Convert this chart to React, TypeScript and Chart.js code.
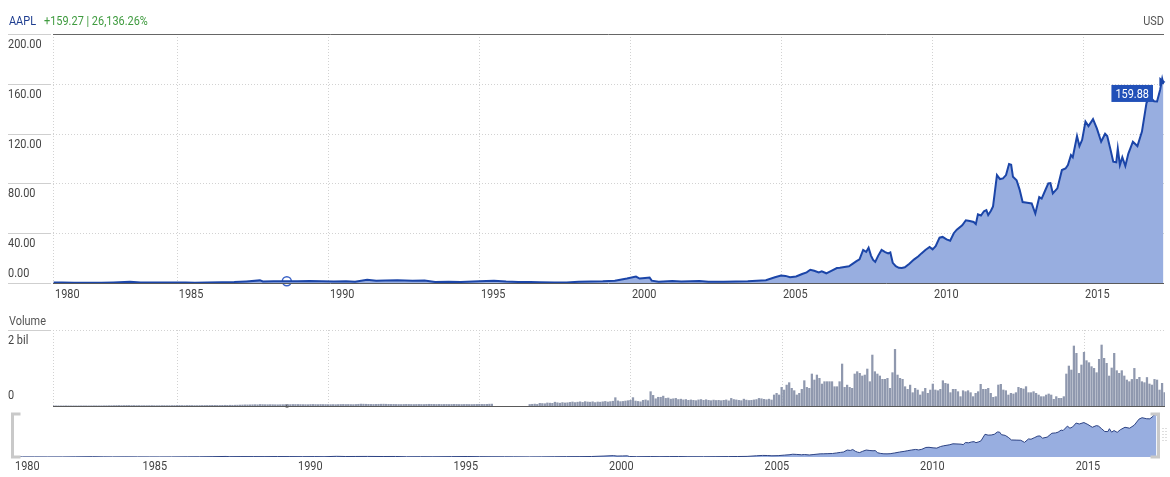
import React, { useEffect, useRef } from 'react';
import { Chart, registerables } from 'chart.js';
import type { Plugin } from 'chart.js';

Chart.register(...registerables);

const FONT = 'Roboto, sans-serif';
const SQUEEZE = 0.84; // the original uses a condensed face

// time axis in decimal years (listing Dec 1980 -> Sep 2017)
const xMin = 1980.9;
const xMax = 2017.68;
const yearTicks = [1985, 1990, 1995, 2000, 2005, 2010, 2015];
const firstYearLabel = '1980';

const priceTicks = [0, 40, 80, 120, 160, 200];
const volumeTicks = [0, 2000]; // millions
const volumeTickLabels = ['0', '2 bil'];
const navigatorMax = 168;

const ticker = 'AAPL';
const changeText = '+159.27 | 26,136.26%';
const currency = 'USD';
const lastPriceText = '159.88';
const hoverDate = 1988.64;

// price
const priceDates = [
  1980.92, 1981.2, 1981.6, 1982.0, 1982.5, 1982.9, 1983.45, 1983.8, 1984.1, 1984.5, 1984.9, 1985.3, 1985.6,
  1986.0, 1986.5, 1986.9, 1987.3, 1987.75, 1987.85, 1988.2, 1988.64, 1989.0, 1989.4, 1989.8, 1990.2, 1990.6, 1990.9,
  1991.3, 1991.6, 1991.9, 1992.3, 1992.8, 1993.2, 1993.55, 1994.0, 1994.4, 1995.0, 1995.5, 1995.9,
  1996.3, 1996.7, 1997.0, 1997.5, 1997.9, 1998.3, 1998.7, 1999.1, 1999.5, 1999.9, 2000.2, 2000.32, 2000.5, 2000.65, 2000.72, 2000.95,
  2001.4, 2001.7, 2002.0, 2002.3, 2002.6, 2003.1, 2003.5, 2003.9, 2004.2, 2004.5, 2004.8, 2005.0, 2005.15, 2005.3, 2005.5, 2005.7, 2005.85, 2005.97,
  2006.1, 2006.25, 2006.35, 2006.5, 2006.65, 2006.85, 2006.95, 2007.1, 2007.25, 2007.38, 2007.5, 2007.6, 2007.72, 2007.82, 2007.9, 2007.98,
  2008.05, 2008.12, 2008.22, 2008.33, 2008.45, 2008.55, 2008.62, 2008.7, 2008.8, 2008.9, 2009.0, 2009.1, 2009.25, 2009.4, 2009.55, 2009.65, 2009.78, 2009.92,
  2010.02, 2010.12, 2010.25, 2010.35, 2010.48, 2010.6, 2010.72, 2010.82, 2011.0, 2011.12, 2011.25, 2011.38, 2011.45, 2011.52, 2011.62, 2011.72, 2011.8, 2011.86, 2011.95,
  2012.02, 2012.15, 2012.25, 2012.35, 2012.45, 2012.55, 2012.62, 2012.68, 2012.8, 2012.9, 2013.0, 2013.15, 2013.3, 2013.42, 2013.55, 2013.63, 2013.75, 2013.85, 2013.92,
  2014.0, 2014.15, 2014.3, 2014.42, 2014.5, 2014.6, 2014.66, 2014.8, 2014.88, 2014.97, 2015.08, 2015.18, 2015.33, 2015.46, 2015.6, 2015.73, 2015.8, 2015.9,
  2016.0, 2016.1, 2016.15, 2016.22, 2016.3, 2016.4, 2016.5, 2016.65, 2016.8, 2016.95, 2017.1, 2017.2, 2017.35, 2017.45, 2017.55, 2017.62, 2017.66,
];
const priceValues = [
  0.45, 0.35, 0.3, 0.2, 0.25, 0.5, 1.1, 0.5, 0.45, 0.5, 0.45, 0.35, 0.27,
  0.4, 0.6, 0.8, 1.3, 2.1, 1.3, 1.5, 1.45, 1.4, 1.7, 1.5, 1.3, 1.5, 1.1,
  2.6, 1.8, 2.0, 2.2, 1.8, 2.0, 0.9, 1.1, 0.9, 1.4, 1.8, 1.2,
  0.9, 0.8, 0.6, 0.46, 0.5, 0.95, 1.3, 1.4, 1.9, 3.6, 5.2, 3.6, 4.0, 4.4, 1.9, 1.1,
  1.6, 1.2, 1.5, 1.7, 1.1, 1.0, 1.3, 1.5, 1.9, 2.3, 4.6, 6.0, 5.7, 4.7, 5.2, 7.2, 8.5, 10.6,
  9.8, 8.5, 9.4, 7.8, 9.6, 12.0, 12.2, 12.8, 13.4, 15.5, 17.5, 19.0, 26.5, 25.0, 28.4, 22.0,
  18.5, 17.0, 22.0, 26.6, 24.8, 23.8, 24.5, 16.2, 13.5, 12.2, 12.0, 12.6, 15.5, 18.8, 21.5, 23.8, 26.5, 28.9,
  27.0, 29.5, 36.4, 37.0, 35.0, 34.0, 40.0, 42.8, 46.4, 50.4, 49.8, 49.0, 47.3, 55.2, 54.2, 57.6, 58.5, 54.6, 58.0,
  61.5, 86.7, 83.5, 84.0, 86.7, 95.6, 95.0, 85.3, 82.5, 75.0, 65.0, 64.5, 63.9, 55.8, 69.0, 67.8, 74.5, 80.0, 80.3,
  72.0, 76.0, 90.7, 92.0, 94.8, 102.8, 101.0, 118.0, 110.0, 115.0, 129.7, 126.0, 131.6, 124.0, 113.5, 119.8, 118.0, 108.0,
  97.4, 97.0, 108.0, 94.8, 101.0, 94.0, 104.0, 113.5, 110.0, 121.6, 144.5, 150.0, 146.0, 145.8, 155.0, 164.0, 159.88,
];

// monthly volume in millions, first bar = Dec 1980 (null = no data)
const volumeStart = 1980 + 11 / 12;
const volumeMonthly: (number | null)[] = [
  5,
  4, 4, 3, 4, 5, 4, 3, 4, 3, 4, 5, 5,
  5, 4, 5, 6, 6, 5, 6, 7, 8, 9, 10, 11,
  13, 14, 12, 13, 15, 14, 12, 13, 11, 12, 10, 11,
  10, 11, 12, 10, 9, 10, 11, 12, 10, 11, 12, 13,
  14, 15, 13, 12, 14, 15, 13, 12, 11, 13, 14, 15,
  15, 16, 17, 18, 16, 15, 17, 19, 18, 20, 19, 21,
  22, 25, 27, 30, 29, 31, 33, 35, 32, 40, 37, 35,
  34, 36, 35, 33, 32, 34, 36, 35, 33, 37, 40, 39,
  40, 38, 37, 36, 35, 39, 41, 38, 37, 40, 39, 38,
  37, 36, 38, 35, 39, 40, 42, 39, 41, 38, 37, 40,
  45, 50, 48, 46, 44, 42, 41, 43, 45, 47, 48, 46,
  44, 42, 43, 41, 40, 39, 41, 43, 42, 40, 39, 41,
  42, 40, 39, 43, 45, 44, 42, 41, 43, 40, 41, 42,
  40, 41, 43, 42, 40, 39, 41, 42, 40, 39, 41, 43,
  45, 43, 42, 44, 48, 50, null, null, null, null, null, null,
  null, null, null, null, null, null, null, null, 40, 45, 50, 42,
  70, 65, 60, 80, 75, 70, 100, 85, 75, 90, 80, 85,
  95, 105, 90, 100, 110, 95, 115, 105, 100, 110, 90, 105,
  100, 110, 120, 105, 115, 125, 219, 135, 115, 120, 130, 140,
  150, 220, 130, 120, 110, 150, 160, 140, 377, 280, 190, 230,
  230, 260, 200, 210, 180, 190, 200, 170, 180, 160, 170, 150,
  160, 150, 140, 160, 170, 150, 165, 150, 140, 155, 145, 150,
  140, 150, 160, 135, 200, 170, 160, 150, 140, 180, 155, 145,
  150, 160, 170, 200, 190, 175, 165, 180, 158, 290, 333, 290,
  490, 420, 550, 614, 465, 403, 290, 333, 438, 666, 490, 465,
  842, 684, 815, 728, 578, 640, 640, 640, 640, 508, 508, 640,
  1105, 490, 550, 490, 465, 842, 903, 860, 790, 815, 973, 640,
  1341, 903, 842, 790, 702, 702, 728, 465, 877, 1490, 815, 728,
  702, 508, 438, 550, 350, 465, 420, 290, 377, 465, 333, 420,
  578, 421, 403, 438, 666, 596, 579, 351, 438, 438, 377, 246,
  403, 377, 403, 351, 246, 333, 377, 570, 438, 438, 465, 333,
  228, 246, 552, 570, 421, 403, 289, 333, 316, 351, 491, 465,
  447, 509, 351, 351, 377, 333, 289, 246, 246, 289, 316, 289,
  175, 246, 202, 202, 246, 842, 1052, 947, 1579, 1386, 859, 1079,
  1412, 1193, 1140, 1035, 991, 877, 1228, 1605, 1254, 1123, 789, 1000,
  1386, 930, 860, 930, 790, 684, 640, 700, 990, 702, 754, 640,
  614, 750, 579, 552, 700, 684, 420, 596, 350,
];

const LINE = '#1b45a8';
const FILL = '#98aee0';
const NAV_LINE = '#2c4283';
const BAR = '#8f98ae';
const GRID = '#d2d2d2';
const AXIS = '#5a5a5a';
const TEXT = '#444';

const line = (ctx: CanvasRenderingContext2D, x1: number, y1: number, x2: number, y2: number) => {
  ctx.beginPath();
  ctx.moveTo(x1, y1);
  ctx.lineTo(x2, y2);
  ctx.stroke();
};
const crisp = (v: number) => Math.round(v) + 0.5;

// condensed text: Roboto squeezed horizontally; returns drawn width
const text = (
  ctx: CanvasRenderingContext2D,
  s: string,
  x: number,
  y: number,
  size: number,
  color: string,
  align: 'left' | 'right' | 'center' = 'left',
) => {
  ctx.save();
  ctx.font = `${size}px ${FONT}`;
  ctx.fillStyle = color;
  ctx.textAlign = 'left';
  ctx.textBaseline = 'alphabetic';
  const w = ctx.measureText(s).width * SQUEEZE;
  const left = align === 'left' ? x : align === 'right' ? x - w : x - w / 2;
  ctx.translate(left, y);
  ctx.scale(SQUEEZE, 1);
  ctx.fillText(s, 0, 0);
  ctx.restore();
  return w;
};

// dotted vertical grid at the year ticks (and the left edge)
const drawYearGrid = (chart: Chart) => {
  const { ctx, chartArea: a } = chart;
  const x = chart.scales.x;
  ctx.save();
  ctx.strokeStyle = GRID;
  ctx.lineWidth = 1;
  ctx.setLineDash([1, 2]);
  [xMin, ...yearTicks].forEach((v) => {
    const px = crisp(x.getPixelForValue(v));
    line(ctx, px, a.top, px, a.bottom);
  });
  ctx.restore();
};

const drawYearLabels = (chart: Chart, baseline: number) => {
  const { ctx, chartArea: a } = chart;
  const x = chart.scales.x;
  text(ctx, firstYearLabel, a.left + 2, baseline, 13, TEXT);
  yearTicks.forEach((v) => text(ctx, String(v), x.getPixelForValue(v) + 2, baseline, 13, TEXT));
};

const priceDecor: Plugin<'line'> = {
  id: 'priceDecor',
  beforeDatasetsDraw(chart) {
    const { ctx, chartArea: a } = chart;
    const y = chart.scales.y;
    drawYearGrid(chart as unknown as Chart);
    ctx.save();
    ctx.strokeStyle = GRID;
    ctx.setLineDash([1, 2]);
    priceTicks.slice(1, -1).forEach((v) => {
      const py = crisp(y.getPixelForValue(v));
      line(ctx, a.left, py, a.right, py);
    });
    ctx.restore();
  },
  afterDraw(chart) {
    const { ctx, chartArea: a } = chart;
    const y = chart.scales.y;
    ctx.save();
    ctx.lineWidth = 1;
    ctx.strokeStyle = '#cfcfcf';
    priceTicks.forEach((v) => {
      const py = crisp(y.getPixelForValue(v));
      line(ctx, 8, py, a.left - 2, py);
    });
    ctx.strokeStyle = '#666';
    line(ctx, a.left, crisp(a.top), a.right, crisp(a.top));
    ctx.strokeStyle = AXIS;
    line(ctx, a.left, crisp(a.bottom), a.right, crisp(a.bottom));
    ctx.restore();

    priceTicks.forEach((v, i) => {
      const py = y.getPixelForValue(v);
      text(ctx, v.toFixed(2), 8, i === 0 ? py - 6 : py + 14, 13, TEXT);
    });

    drawYearLabels(chart as unknown as Chart, a.bottom + 15);

    // header
    const tw = text(ctx, ticker, 9, 25, 13, '#1d3c8f');
    text(ctx, changeText, 9 + tw + 8, 25, 13, '#3f9b3f');
    text(ctx, currency, a.right, 25, 13, '#555', 'right');

    // last price flag
    const meta = chart.getDatasetMeta(0);
    const last = meta.data[meta.data.length - 1];
    const lx = last.x;
    const ly = last.y;
    ctx.save();
    ctx.font = `13px ${FONT}`;
    const bw = ctx.measureText(lastPriceText).width * SQUEEZE + 8;
    const bh = 17;
    const bx = a.right - 11 - bw;
    const by = ly + 1;
    ctx.fillStyle = '#2150b8';
    ctx.fillRect(bx, by, bw, bh);
    ctx.fillStyle = LINE;
    ctx.beginPath();
    ctx.moveTo(lx - 4, ly - 7);
    ctx.lineTo(lx + 2, ly - 2);
    ctx.lineTo(lx - 4, ly + 2);
    ctx.closePath();
    ctx.fill();
    ctx.restore();
    text(ctx, lastPriceText, bx + bw / 2, by + 13, 13, '#fff', 'center');
  },
};

const volumeDecor: Plugin<'bar'> = {
  id: 'volumeDecor',
  beforeDatasetsDraw(chart) {
    const { ctx, chartArea: a } = chart;
    const y = chart.scales.y;
    drawYearGrid(chart as unknown as Chart);
    ctx.save();
    ctx.strokeStyle = GRID;
    ctx.setLineDash([1, 2]);
    const py = crisp(y.getPixelForValue(volumeTicks[1]));
    line(ctx, a.left, py, a.right, py);
    ctx.restore();
  },
  afterDraw(chart) {
    const { ctx, chartArea: a } = chart;
    const y = chart.scales.y;
    ctx.save();
    ctx.lineWidth = 1;
    ctx.strokeStyle = '#cfcfcf';
    const top = crisp(y.getPixelForValue(volumeTicks[1]));
    line(ctx, 8, top, a.left - 2, top);
    ctx.strokeStyle = AXIS;
    line(ctx, a.left, crisp(a.bottom), a.right, crisp(a.bottom));
    ctx.restore();

    text(ctx, 'Volume', 9, top - 6, 13, '#555');
    volumeTicks.forEach((v, i) => {
      const py = y.getPixelForValue(v);
      text(ctx, volumeTickLabels[i], 8, i === 0 ? py - 7 : py + 14, 13, TEXT);
    });
  },
};

const navigatorDecor: Plugin<'line'> = {
  id: 'navigatorDecor',
  afterDraw(chart) {
    const { ctx, chartArea: a } = chart;
    drawYearLabels(chart as unknown as Chart, a.bottom + 13);
    ctx.save();
    ctx.strokeStyle = '#c9c9c9';
    ctx.lineWidth = 3;
    const l = a.left - 0.5;
    const r = a.right + 1.5;
    ctx.beginPath();
    ctx.moveTo(l + 8, a.top + 1);
    ctx.lineTo(l, a.top + 1);
    ctx.lineTo(l, a.bottom);
    ctx.lineTo(l + 8, a.bottom);
    ctx.stroke();
    ctx.beginPath();
    ctx.moveTo(r - 8, a.top + 1);
    ctx.lineTo(r, a.top + 1);
    ctx.lineTo(r, a.bottom);
    ctx.lineTo(r - 8, a.bottom);
    ctx.stroke();
    ctx.fillStyle = '#bdbdbd';
    for (let gy = a.top + 15; gy <= a.top + 27; gy += 3) {
      ctx.fillRect(r + 4, gy, 1, 1);
      ctx.fillRect(r + 7, gy, 1, 1);
    }
    ctx.restore();
  },
};

const pricePoints = () => priceDates.map((x, i) => ({ x, y: priceValues[i] }));

const App: React.FC = () => {
  const priceRef = useRef<HTMLCanvasElement>(null);
  const volumeRef = useRef<HTMLCanvasElement>(null);
  const navRef = useRef<HTMLCanvasElement>(null);

  useEffect(() => {
    if (!priceRef.current || !volumeRef.current || !navRef.current) return;
    const hoverPrice = priceValues[priceDates.indexOf(hoverDate)];

    const priceChart = new Chart(priceRef.current, {
      type: 'line',
      data: {
        datasets: [
          {
            data: pricePoints(),
            borderColor: LINE,
            backgroundColor: FILL,
            borderWidth: 2,
            fill: 'origin',
            pointRadius: 0,
            tension: 0,
          },
          {
            data: [{ x: hoverDate, y: hoverPrice }],
            showLine: false,
            pointRadius: 4.5,
            pointBorderWidth: 1.5,
            pointBorderColor: '#3a62c6',
            pointBackgroundColor: 'rgba(255,255,255,0.5)',
            clip: false,
          },
        ],
      },
      options: {
        animation: false,
        responsive: false,
        events: [],
        layout: { padding: { left: 53, right: 5, top: 34, bottom: 27 } },
        scales: {
          x: { type: 'linear', min: xMin, max: xMax, display: false },
          y: { min: priceTicks[0], max: priceTicks[priceTicks.length - 1], display: false },
        },
        plugins: { legend: { display: false }, tooltip: { enabled: false } },
      },
      plugins: [priceDecor],
    });

    const volumeChart = new Chart(volumeRef.current, {
      type: 'bar',
      data: {
        datasets: [
          {
            data: volumeMonthly.map((v, i) => ({ x: volumeStart + i / 12, y: v })) as any,
            backgroundColor: BAR,
            barThickness: 1.6,
          },
          {
            type: 'line',
            data: [{ x: hoverDate, y: 0 }],
            showLine: false,
            pointStyle: 'rect',
            pointRadius: 2,
            pointBorderWidth: 0,
            pointBackgroundColor: '#000',
            clip: false,
          } as any,
        ],
      },
      options: {
        animation: false,
        responsive: false,
        events: [],
        layout: { padding: { left: 53, right: 5, top: 20, bottom: 4 } },
        scales: {
          x: { type: 'linear', min: xMin, max: xMax, offset: false, display: false },
          y: { min: volumeTicks[0], max: volumeTicks[1], display: false },
        },
        plugins: { legend: { display: false }, tooltip: { enabled: false } },
      },
      plugins: [volumeDecor],
    });

    const navChart = new Chart(navRef.current, {
      type: 'line',
      data: {
        datasets: [
          {
            data: pricePoints(),
            borderColor: NAV_LINE,
            backgroundColor: FILL,
            borderWidth: 1,
            fill: 'origin',
            pointRadius: 0,
            tension: 0,
          },
        ],
      },
      options: {
        animation: false,
        responsive: false,
        events: [],
        layout: { padding: { left: 13, right: 13, top: 7, bottom: 20 } },
        scales: {
          x: { type: 'linear', min: xMin, max: xMax, display: false },
          y: { min: 0, max: navigatorMax, display: false },
        },
        plugins: { legend: { display: false }, tooltip: { enabled: false } },
      },
      plugins: [navigatorDecor],
    });

    return () => {
      priceChart.destroy();
      volumeChart.destroy();
      navChart.destroy();
    };
  }, []);

  const canvasStyle = (top: number): React.CSSProperties => ({ position: 'absolute', left: 0, top, display: 'block' });

  return (
    <div style={{ position: 'absolute', left: 0, top: 0, width: 1170, height: 477, background: '#fff', overflow: 'hidden' }}>
      <canvas ref={priceRef} width={1170} height={310} style={canvasStyle(0)} />
      <canvas ref={volumeRef} width={1170} height={100} style={canvasStyle(310)} />
      <canvas ref={navRef} width={1170} height={71} style={canvasStyle(406)} />
    </div>
  );
};

export default App;
